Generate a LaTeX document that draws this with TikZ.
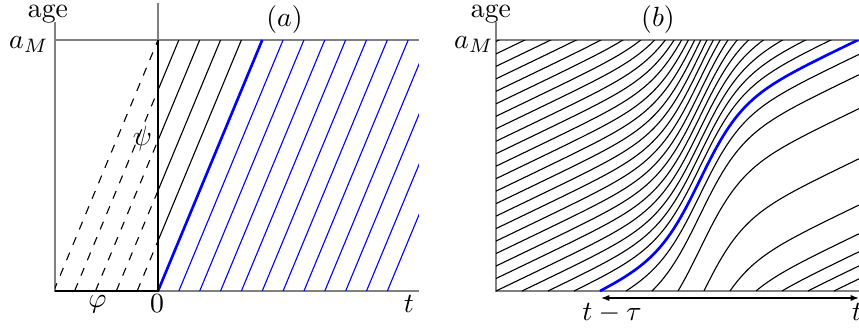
\documentclass[tikz,border=0pt]{standalone}
\usetikzlibrary{arrows.meta}
\newcommand\drawchar[2]{%
  \pgfmathsetmacro\tz{496+26*#1}%
  \pgfmathsetmacro\ts{max(\tz,496)}%
  \pgfmathsetmacro\Az{0.48*\tz+64.1*tanh(max(-6,min(6,(\tz-700)/41)))}%
  \draw[#2] plot[domain=\ts:859, samples=110, smooth] (\x,{39+0.48*\x+64.1*tanh((\x-700)/41)-\Az});%
}
\begin{document}
\begin{tikzpicture}[x=0.36pt,y=0.36pt,
  axis/.style={black!50, line width=0.4pt},
  heavy/.style={black, line width=0.95pt},
  thinline/.style={black, line width=0.4pt},
  thinblue/.style={blue, line width=0.4pt},
  thickblue/.style={blue, line width=0.95pt},
  lbl/.style={inner sep=0pt, anchor=base},
]
\useasboundingbox (0,0) rectangle (859,330);

% ---------------- panel (a) ----------------
\coordinate (aBL) at (55,39);
\coordinate (aTL) at (55,290);
\coordinate (aLtop) at (55,308);
\coordinate (aBR) at (419,39);
\coordinate (aTR) at (419,290);
\coordinate (aO) at (158,39);
\coordinate (aOT) at (158,290);
\coordinate (aOtop) at (158,327);
\coordinate (aBlueEnd) at (262.25,290);

\draw[axis] (aLtop) -- (aBL) -- (aBR);
\draw[axis] (aTL) -- (aTR);
\draw[axis] (aOtop) -- (aO);

\begin{scope}
  \clip (55,39) rectangle (158,290);
  \foreach \k in {-5,...,-1}
    \draw[thinline, dashed] (158+\k*20.85,39) -- (262.25+\k*20.85,290);
\end{scope}
\begin{scope}
  \clip (158,39) rectangle (419,290);
  \foreach \k in {-4,...,-1}
    \draw[thinline] (158+\k*20.85,39) -- (262.25+\k*20.85,290);
  \foreach \k in {1,...,11}
    \draw[thinblue] (158+\k*20.85,39) -- (262.25+\k*20.85,290);
\end{scope}
\draw[thickblue] (aO) -- (aBlueEnd);
\draw[heavy] (aBL) -- (aO) -- (aOT);

\node[lbl] (agea) at (48,313) {age};
\node[inner sep=0pt, anchor=base east] (aMa) at (49,282) {$a_M$};
\node[lbl] (pa) at (284.5,304) {$(a)$};
\node[inner sep=0pt] (psi) at (142.5,191) {$\psi$};
\node[inner sep=0pt] (phi) at (97.5,26) {$\varphi$};
\node[lbl] (zero) at (157,18) {$0$};
\node[lbl] (ta) at (409,18) {$t$};

% ---------------- panel (b) ----------------
\coordinate (bBL) at (496,39);
\coordinate (bTL) at (496,290);
\coordinate (bLtop) at (496,308);
\coordinate (bBR) at (859,39);
\coordinate (bTR) at (859,290);

\draw[axis] (bLtop) -- (bBL) -- (bBR);
\draw[axis] (bTL) -- (bTR);

\begin{scope}
  \clip (496,39) rectangle (859,290);
  \foreach \k in {-20,...,3} {\drawchar{\k}{thinline}}
  \foreach \k in {5,...,13} {\drawchar{\k}{thinline}}
  \drawchar{4}{thickblue}
\end{scope}

\coordinate (tL) at (601,32);
\coordinate (tR) at (859,32);
\draw[thinline, {Latex[length=3pt,width=2.2pt]}-{Latex[length=3pt,width=2.2pt]}] (tL) -- (tR);

\node[lbl] (ageb) at (491,313) {age};
\node[inner sep=0pt, anchor=base east] (aMb) at (494,282) {$a_M$};
\node[lbl] (pb) at (658,304) {$(b)$};
\node[lbl] (ttau) at (612,10) {$t-\tau$};
\node[lbl] (tb) at (857,10) {$t$};
\end{tikzpicture}
\end{document}
